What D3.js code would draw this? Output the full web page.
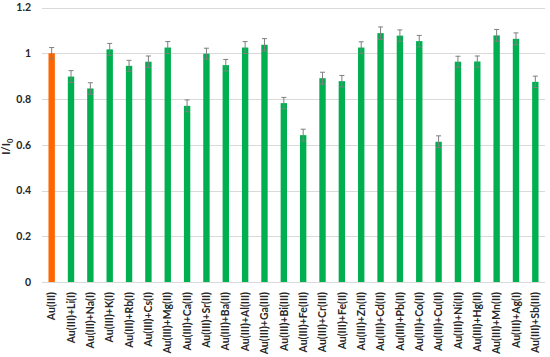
<!DOCTYPE html>
<html>
<head>
<meta charset="utf-8">
<script src="https://cdn.jsdelivr.net/npm/d3@7"></script>
<style>
  html, body { margin: 0; padding: 0; background: #fff; }
  svg { display: block; }
</style>
</head>
<body>
<div id="chart"></div>
<script>
const categories = ["Au(III)", "Au(III)+Li(I)", "Au(III)+Na(I)", "Au(III)+K(I)", "Au(III)+Rb(I)", "Au(III)+Cs(I)",
  "Au(III)+Mg(II)", "Au(III)+Ca(II)", "Au(III)+Sr(II)", "Au(III)+Ba(II)", "Au(III)+Al(III)", "Au(III)+Ga(III)",
  "Au(III)+Bi(III)", "Au(III)+Fe(III)", "Au(III)+Cr(III)", "Au(III)+Fe(II)", "Au(III)+Zn(II)", "Au(III)+Cd(II)",
  "Au(III)+Pb(II)", "Au(III)+Co(II)", "Au(III)+Cu(II)", "Au(III)+Ni(II)", "Au(III)+Hg(II)", "Au(III)+Mn(II)",
  "Au(III)+Ag(I)", "Au(III)+Sb(III)"];
const values = [1.000, 0.898, 0.846, 1.017, 0.945, 0.963, 1.025, 0.770, 0.998, 0.948, 1.025, 1.037,
  0.782, 0.642, 0.891, 0.878, 1.025, 1.088, 1.077, 1.053, 0.613, 0.963, 0.964, 1.078, 1.063, 0.875];
const errors = [0.025, 0.026, 0.025, 0.026, 0.024, 0.025, 0.026, 0.026, 0.024, 0.025, 0.026, 0.027,
  0.025, 0.026, 0.026, 0.025, 0.025, 0.027, 0.025, 0.025, 0.026, 0.024, 0.024, 0.026, 0.026, 0.025];
const yTicks = [0, 0.2, 0.4, 0.6, 0.8, 1, 1.2];

const W = 550, H = 357;
const margin = {top: 7.5, right: 5, bottom: 75, left: 42};
const FONT = "Lato, 'Open Sans', sans-serif";
const svg = d3.select("#chart").append("svg").attr("width", W).attr("height", H);

const x = d3.scaleBand().domain(categories).range([margin.left, W - margin.right]).paddingInner(0.67).paddingOuter(0.335);
const y = d3.scaleLinear().domain([0, 1.2]).range([H - margin.bottom, margin.top]);

// grid
svg.append("g").selectAll("line").data(yTicks).join("line")
  .attr("x1", margin.left).attr("x2", W - margin.right)
  .attr("y1", d => Math.round(y(d)) + 0.5).attr("y2", d => Math.round(y(d)) + 0.5)
  .attr("stroke", "#d9d9d9").attr("stroke-width", 1);

// y axis labels
const yAxis = d3.axisLeft(y).tickValues(yTicks).tickSize(0).tickPadding(11).tickFormat(d => String(d));
const ga = svg.append("g").attr("transform", `translate(${margin.left},0)`).call(yAxis);
ga.select(".domain").remove();
ga.selectAll("text").attr("font-family", FONT).attr("font-size", 10.5)
  .attr("font-weight", "bold").attr("fill", "#262626");

// bars
svg.append("g").selectAll("rect").data(categories).join("rect")
  .attr("x", d => x(d)).attr("width", x.bandwidth())
  .attr("y", (d, i) => y(values[i])).attr("height", (d, i) => y(0) - y(values[i]))
  .attr("fill", (d, i) => i === 0 ? "#ff6600" : "#00b050");

// error bars
const eg = svg.append("g").attr("stroke", "#7f7f7f").attr("stroke-width", 1);
categories.forEach((c, i) => {
  const cx = x(c) + x.bandwidth() / 2;
  const y1 = y(values[i] + errors[i]), y2 = y(values[i] - errors[i]);
  eg.append("line").attr("x1", cx).attr("x2", cx).attr("y1", y1).attr("y2", y2);
  eg.append("line").attr("x1", cx - 2.5).attr("x2", cx + 2.5).attr("y1", y1).attr("y2", y1);
  eg.append("line").attr("x1", cx - 2.5).attr("x2", cx + 2.5).attr("y1", y2).attr("y2", y2);
});

// x labels
const xAxis = d3.axisBottom(x).tickSize(0).tickPadding(0);
const gx = svg.append("g").attr("transform", `translate(0,${y(0)})`).call(xAxis);
gx.select(".domain").remove();
gx.selectAll("text")
  .attr("font-family", FONT).attr("font-size", 10.5).attr("font-weight", "bold")
  .attr("fill", "#262626")
  .attr("text-anchor", "end").attr("dy", "0.35em")
  .attr("transform", "translate(0,10) rotate(-90)")
  .attr("x", 0).attr("y", 0);

// y label
const yl = svg.append("text").attr("transform", `translate(10,${(y(0) + y(1.2)) / 2 + 2}) rotate(-90)`)
  .attr("text-anchor", "middle").attr("font-family", FONT)
  .attr("font-size", 11).attr("font-weight", "bold").attr("fill", "#262626");
yl.append("tspan").text("I/I");
yl.append("tspan").attr("font-size", 7.5).attr("dy", 3).text("0");
</script>
</body>
</html>
